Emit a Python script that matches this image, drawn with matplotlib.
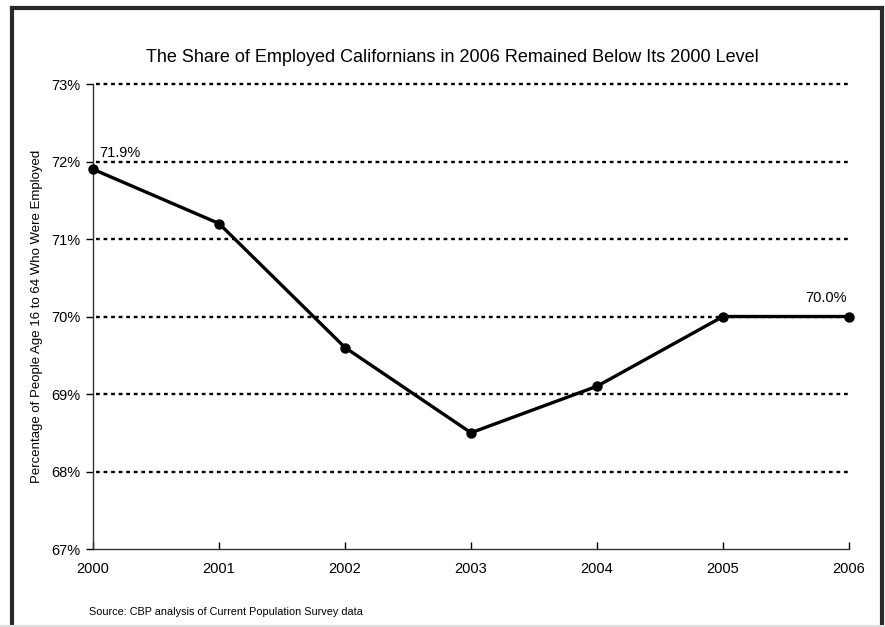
import numpy as np
import matplotlib.pyplot as plt
from matplotlib.lines import Line2D

years = [2000, 2001, 2002, 2003, 2004, 2005, 2006]
share = [71.9, 71.2, 69.6, 68.5, 69.1, 70.0, 70.0]
y_ticks = [67, 68, 69, 70, 71, 72, 73]
grid_levels = [68, 69, 70, 71, 72, 73]

plt.rcParams['font.family'] = ['Liberation Sans', 'DejaVu Sans']

fig = plt.figure(figsize=(8.85, 6.27), dpi=100)
ax = fig.add_axes([0.1051, 0.1244, 0.8542, 0.7416])

for lvl in grid_levels:
	ax.plot([years[0] + 0.02, years[-1]], [lvl, lvl], color='black', lw=1.7,
			linestyle=(0, (1.6, 1.6)), zorder=1, clip_on=False)

ax.plot(years, share, color='black', lw=2.4, marker='o', markersize=6.5,
		zorder=3, clip_on=False)

ax.text(years[0] + 0.05, share[0] + 0.12, '{:.1f}%'.format(share[0]),
		fontsize=10.5, ha='left', va='bottom')
ax.text(years[-1] - 0.02, share[-1] + 0.15, '{:.1f}%'.format(share[-1]),
		fontsize=10.5, ha='right', va='bottom')

ax.set_xlim(years[0], years[-1])
ax.set_ylim(y_ticks[0], y_ticks[-1])
ax.set_xticks(years)
ax.set_xticklabels([str(y) for y in years], fontsize=10.5)
ax.set_yticks(y_ticks)
ax.set_yticklabels(['{}%'.format(t) for t in y_ticks], fontsize=10.5)
ax.tick_params(axis='x', direction='in', length=5, width=1, pad=9)
ax.tick_params(axis='y', direction='out', length=5, width=1, pad=4)
for side in ['top', 'right']:
	ax.spines[side].set_visible(False)
for side in ['left', 'bottom']:
	ax.spines[side].set_linewidth(1)
	ax.spines[side].set_color('#333333')
ax.set_ylabel('Percentage of People Age 16 to 64 Who Were Employed', fontsize=9.5)
ax.yaxis.set_label_coords(-0.066, 0.5)

fig.text(0.511, 0.909, 'The Share of Employed Californians in 2006 Remained Below Its 2000 Level',
		 fontsize=13, ha='center', va='center')
fig.text(0.101, 0.024, 'Source: CBP analysis of Current Population Survey data',
		 fontsize=7.8, ha='left', va='center')

# outer frame
frame = dict(color='#2a2a2a', lw=3, solid_capstyle='projecting')
fig.add_artist(Line2D([0.0135, 0.0135], [-0.01, 0.9875], transform=fig.transFigure, **frame))
fig.add_artist(Line2D([0.0135, 0.9965], [0.9875, 0.9875], transform=fig.transFigure, **frame))
fig.add_artist(Line2D([0.9965, 0.9965], [-0.01, 0.9875], transform=fig.transFigure, **frame))
fig.add_artist(Line2D([0.0, 1.0], [0.002, 0.002], transform=fig.transFigure,
					  color='#dddddd', lw=1.5))

fig.savefig('out.png', dpi=100)
